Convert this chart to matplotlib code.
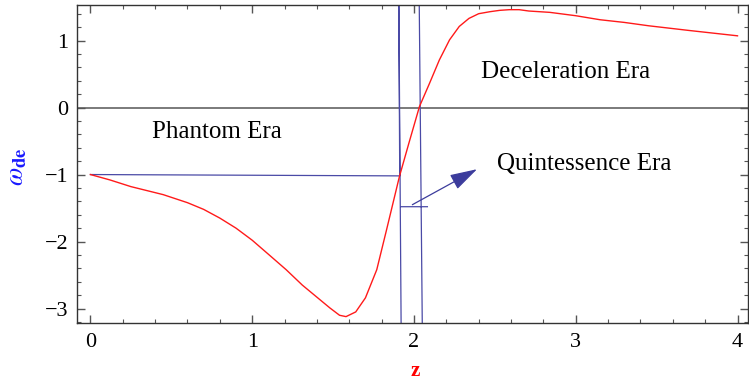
import matplotlib
matplotlib.use("Agg")
import matplotlib.pyplot as plt
import numpy as np
from matplotlib.ticker import MultipleLocator

# Red curve (omega_de vs z)
red_z = [0.0, 0.12, 0.25, 0.35, 0.45, 0.6, 0.7, 0.8, 0.9, 1.0, 1.11, 1.21, 1.31, 1.42,
         1.48, 1.54, 1.58, 1.64, 1.70, 1.77, 1.83, 1.87, 1.91, 1.97, 2.034, 2.096,
         2.157, 2.22, 2.28, 2.34, 2.40, 2.47, 2.53, 2.59, 2.65, 2.71, 2.84, 3.0, 3.15,
         3.3, 3.45, 3.7, 4.0]
red_w = [-1.0, -1.08, -1.18, -1.24, -1.30, -1.42, -1.52, -1.65, -1.80, -1.98, -2.21,
         -2.42, -2.65, -2.87, -2.99, -3.10, -3.12, -3.05, -2.84, -2.42, -1.83, -1.43,
         -1.03, -0.52, 0.015, 0.36, 0.71, 1.01, 1.21, 1.33, 1.40, 1.43, 1.45, 1.46,
         1.46, 1.44, 1.42, 1.37, 1.31, 1.27, 1.22, 1.15, 1.07]

# Blue curve segments (NaN separates branches)
blue_z = [0.0, 1.912, 1.906, np.nan, 1.921, 1.906, np.nan, 1.918, 2.083, np.nan, 2.032, 2.052]
blue_w = [-1.0, -1.02, 1.7, np.nan, -3.4, 1.7, np.nan, -1.48, -1.48, np.nan, 1.7, -3.4]

x_ticks = [0, 1, 2, 3, 4]
y_ticks = [-3, -2, -1, 0, 1]

plt.rcParams['font.family'] = ['Liberation Serif', 'DejaVu Serif']
plt.rcParams['mathtext.fontset'] = 'stix'

fig = plt.figure(figsize=(7.49, 3.81), dpi=100)
ax = fig.add_axes([0.1028, 0.1514, 0.8959, 0.8355])

ax.axhline(0, color='#707070', lw=1.3, zorder=1)
ax.plot(blue_z, blue_w, color='#4a4aa6', lw=0.9, zorder=2)
ax.plot(red_z, red_w, color='#ff1a1a', lw=1.0, zorder=3)

ax.annotate('', xy=(2.39, -0.92), xytext=(1.99, -1.45),
            arrowprops=dict(arrowstyle='-|>,head_length=1.7,head_width=0.5',
                            color='#3c3c9c', lw=0.9, shrinkA=0, shrinkB=0))

ax.text(0.78, -0.36, 'Phantom Era', ha='center', va='center', fontsize=18)
ax.text(2.94, 0.53, 'Deceleration Era', ha='center', va='center', fontsize=18)
ax.text(3.05, -0.85, 'Quintessence Era', ha='center', va='center', fontsize=18)

ax.set_xlim(-0.083, 4.065)
ax.set_ylim(-3.22, 1.53)
ax.set_xticks(x_ticks)
ax.set_yticks(y_ticks)
ax.set_yticklabels(['\u22123', '\u22122', '\u22121', '0', '1'])
ax.xaxis.set_minor_locator(MultipleLocator(0.2))
ax.yaxis.set_minor_locator(MultipleLocator(0.2))
ax.tick_params(which='both', direction='in', top=True, right=True, color='#555555',
               labelsize=16)
ax.tick_params(which='major', length=6, width=1.0)
ax.tick_params(which='minor', length=3, width=0.8)
ax.tick_params(axis='y', pad=6)
ax.tick_params(axis='x', pad=7)
for s in ax.spines.values():
    s.set_color('#333333')
    s.set_linewidth(1.0)

fig.text(18/749, 1 - 167/381, r'$\omega_{\mathbf{de}}$', color='#1a1aff', fontsize=19,
         rotation=90, ha='center', va='center')
fig.text(415/749, 1 - 376/381, 'z', color='#ff0000', fontsize=15, fontweight='bold',
         ha='center', va='baseline')

fig.savefig('out.png', dpi=100)
